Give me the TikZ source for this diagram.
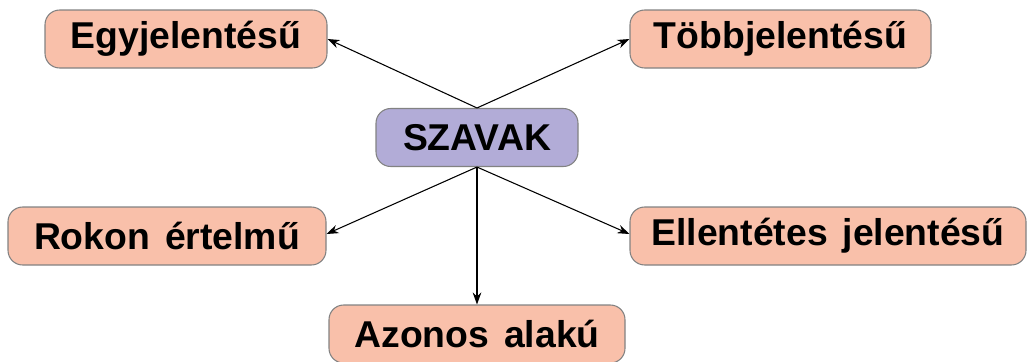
\documentclass[tikz,border=0pt]{standalone}
\usepackage{fontspec}
\setmainfont{Liberation Sans}
\usepackage{xcolor}
\usetikzlibrary{arrows.meta}

\definecolor{boxpink}{RGB}{249,192,170}
\definecolor{boxlilac}{RGB}{178,172,215}
\definecolor{boxline}{RGB}{130,130,130}

\newcommand{\gap}{\hspace{0.4em}}

\tikzset{
  kind/.style={draw=boxline, line width=0.8pt, fill=boxpink, rounded corners=11pt,
    minimum height=43.5pt, inner sep=0pt, font=\fontsize{28}{31}\selectfont\bfseries},
  root/.style={kind, fill=boxlilac},
  link/.style={-{Stealth[length=9pt,width=6.5pt]}, line width=0.8pt}
}

\begin{document}
\begin{tikzpicture}[x=0.75pt,y=-0.75pt]
    \useasboundingbox (0,0) rectangle (1029,361);

    \node[root, minimum width=151.5pt] (sz) at (477,137.5) {SZAVAK};

    \node[kind, minimum width=211.5pt] (egy) at (186,39) {Egyjelentésű};
    \node[kind, minimum width=225.75pt] (tobb) at (780.5,39) {Többjelentésű};
    \node[kind, minimum width=238.5pt] (rokon) at (167,236) {Rokon\gap értelmű};
    \node[kind, minimum width=297pt] (ellen) at (828,236) {Ellentétes\gap jelentésű};
    \node[kind, minimum width=222pt] (azon) at (477,334) {Azonos\gap alakú};

    % up
    \draw[link] (sz.north) -- (egy.east);
    \draw[link] (sz.north) -- (tobb.west);
    % down
    \draw[link] (sz.south) -- ([yshift=1.5pt]rokon.east);
    \draw[link] (sz.south) -- ([yshift=1.5pt]ellen.west);
    \draw[link] (sz.south) -- (azon.north);
\end{tikzpicture}
\end{document}
